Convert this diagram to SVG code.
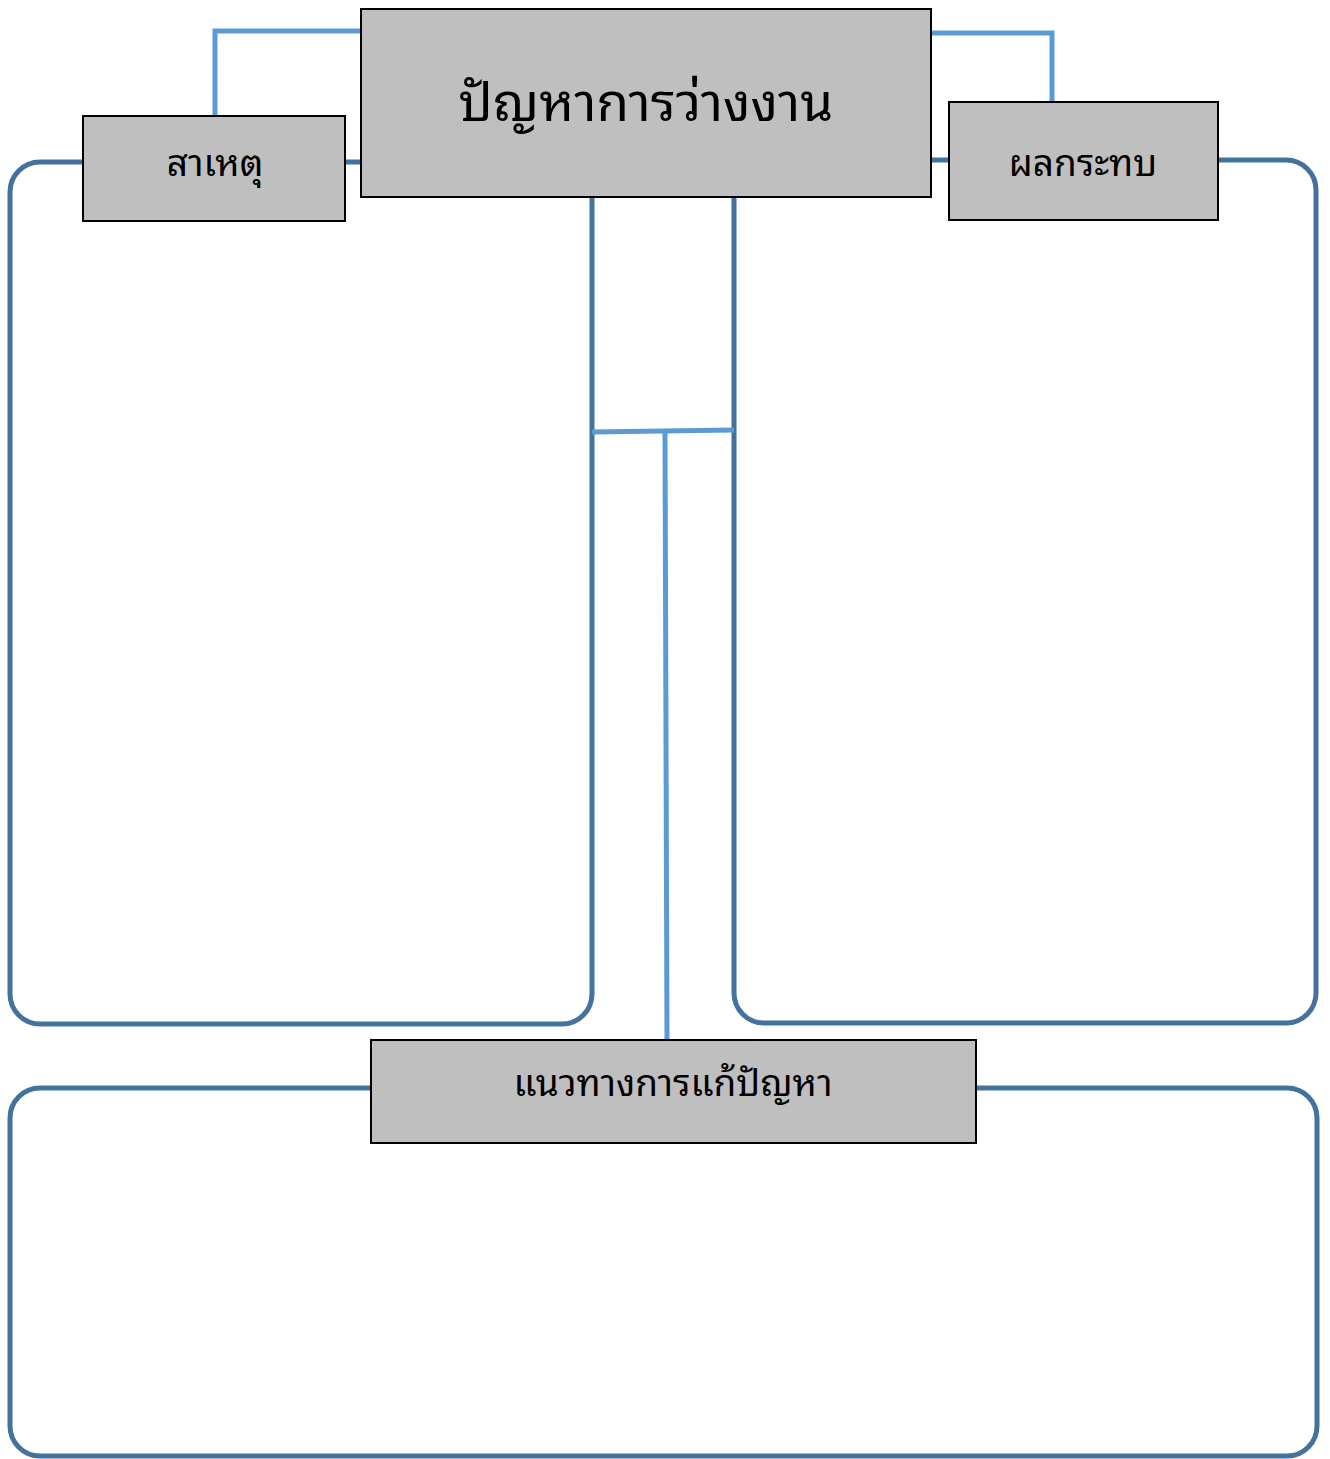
<svg xmlns="http://www.w3.org/2000/svg" width="1330" height="1459" viewBox="0 0 1330 1459">
<style>
.panel{fill:none;stroke:#44729e;stroke-width:5}
.link{fill:none;stroke:#5b9bd5;stroke-width:5}
.box{fill:#bfbfbf;stroke:#000;stroke-width:2}
.lbl{font-family:"Noto Sans Thai Looped","Noto Sans Thai","Noto Sans","DejaVu Sans",sans-serif;fill:#000;text-anchor:middle;dominant-baseline:central}
</style>
<rect width="1330" height="1459" fill="#fff"/>
<g id="panels">
<rect class="panel" x="10" y="162" width="582" height="862" rx="30"/>
<rect class="panel" x="734" y="160" width="582" height="863" rx="30"/>
<rect class="panel" x="10" y="1088" width="1307" height="368" rx="30"/>
</g>
<g id="connectors">
<polyline class="link" points="360,31 215,31 215,116"/>
<polyline class="link" points="931,33 1052,33 1052,102"/>
<line class="link" x1="592" y1="432" x2="734" y2="430"/>
<line class="link" x1="665" y1="432" x2="667" y2="1040"/>
</g>
<g id="node-problem">
<rect class="box" x="361" y="9" width="570" height="188"/>
<text class="lbl" x="646" y="97" font-size="53">ปัญหาการว่างงาน</text>
</g>
<g id="node-cause">
<rect class="box" x="83" y="116" width="262" height="105"/>
<text class="lbl" x="215" y="159" font-size="37">สาเหตุ</text>
</g>
<g id="node-effect">
<rect class="box" x="949" y="102" width="269" height="118"/>
<text class="lbl" x="1083" y="159" font-size="37">ผลกระทบ</text>
</g>
<g id="node-solution">
<rect class="box" x="371" y="1040" width="605" height="103"/>
<text class="lbl" x="673" y="1079" font-size="37">แนวทางการแก้ปัญหา</text>
</g>
</svg>
